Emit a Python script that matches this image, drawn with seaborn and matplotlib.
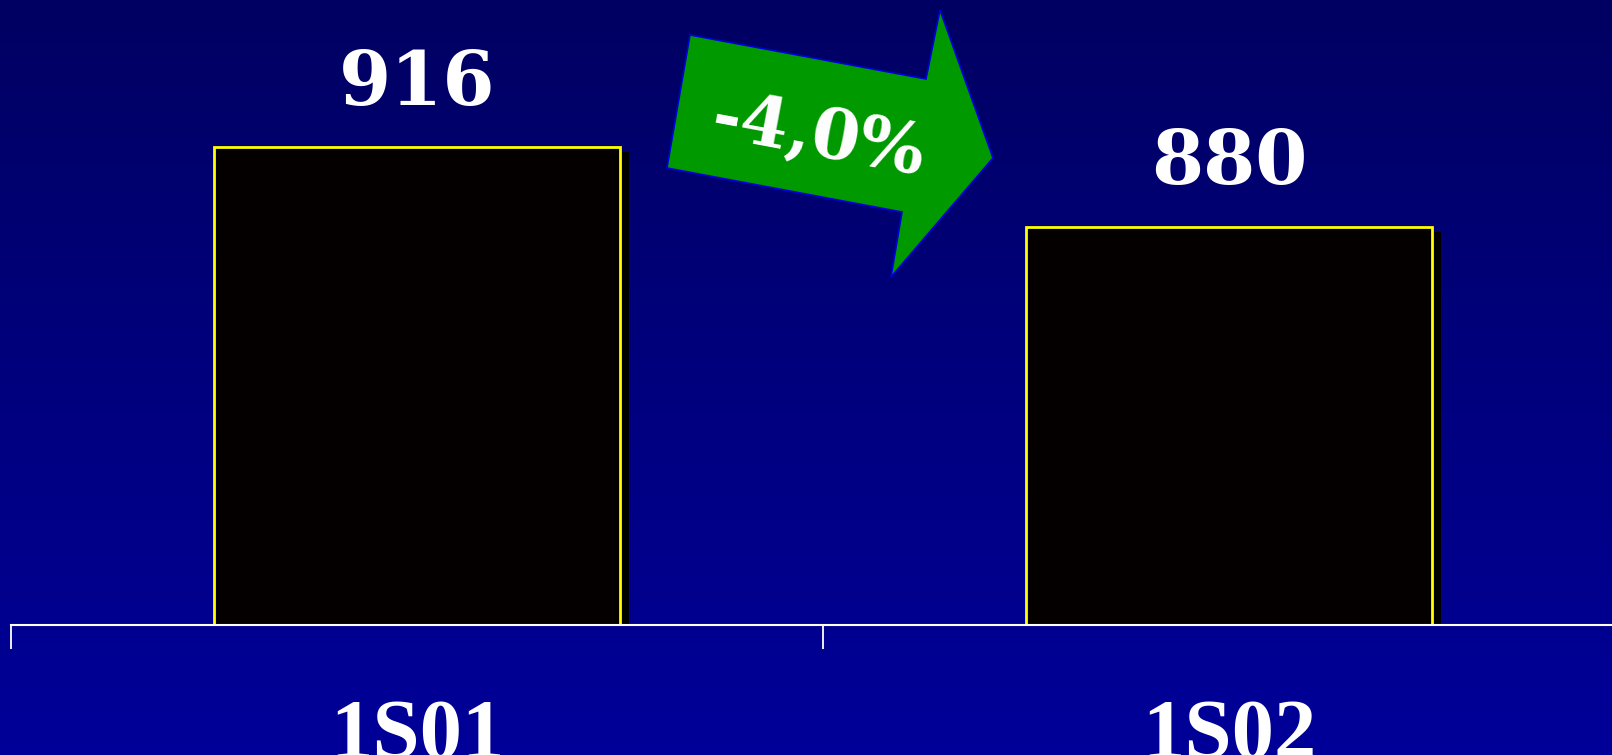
import numpy as np
import pandas as pd
import matplotlib.pyplot as plt
import matplotlib.patheffects as pe
from matplotlib.patches import Polygon
import seaborn as sns

periods = ['1S01', '1S02']
values = [916, 880]
change_label = '-4,0%'
y_min = 700

df = pd.DataFrame({'periodo': periods, 'valor': values})

W, H = 1612, 755
fig = plt.figure(figsize=(W / 100, H / 100), dpi=100)

# gradient background
bg = fig.add_axes([0, 0, 1, 1], zorder=0)
grad = np.linspace(0, 1, 256).reshape(-1, 1)
top = np.array([0, 0, 0x62]) / 255
bottom = np.array([0, 0, 0x99]) / 255
img = top + grad[..., None] * (bottom - top)
bg.imshow(img, aspect='auto', extent=[0, 1, 0, 1])
bg.set_axis_off()

ax = fig.add_axes([0, 130 / H, 1, 625 / H], zorder=1)
ax.set_facecolor('none')
sns.barplot(data=df, x='periodo', y='valor', ax=ax, width=0.5,
            color='#050000', edgecolor='#FFFF00', linewidth=2, saturation=1)
for p in ax.patches:
    p.set_path_effects([pe.SimplePatchShadow(offset=(6, -4), shadow_rgbFace='black', alpha=1.0),
                        pe.Normal()])

for c in ax.containers:
    ax.bar_label(c, fmt='%d', padding=19, color='white', fontsize=54,
                 fontweight='bold', family='DejaVu Serif')

for s in ['top', 'left', 'right']:
    ax.spines[s].set_visible(False)
ax.spines['bottom'].set_color('white')
ax.spines['bottom'].set_linewidth(1.5)
ax.spines['bottom'].set_bounds(-0.5, 1.6)
ax.set_yticks([])
ax.set_xticks([-0.5, 0.5])
ax.set_xticklabels([])
ax.tick_params(axis='x', which='major', length=17, width=1.3, color='white', direction='out')
ax.set_xticks([0, 1], minor=True)
ax.set_xticklabels(periods, minor=True)
ax.tick_params(axis='x', which='minor', length=0, pad=53, labelsize=61, labelcolor='white')
for t in ax.get_xticklabels(minor=True):
    t.set_family('Liberation Serif')
    t.set_fontweight('bold')
ax.set_xlabel('')
ax.set_ylabel('')

ax.set_ylim(y_min, y_min + 625 / 2.2134)
ax.set_xlim(-0.5 - 11.3 / 812, -0.5 + (W - 11.3) / 812)

# green arrow showing the change
arrow_px = [(690, 35), (926, 79), (940, 10), (993, 158), (891, 277), (902, 212), (667, 168)]
arrow = Polygon([(x / W, 1 - y / H) for x, y in arrow_px], closed=True,
                transform=fig.transFigure, facecolor='#009900', edgecolor='#0000DD',
                linewidth=1.2, zorder=3)
fig.add_artist(arrow)
fig.text(818 / W, 1 - 137 / H, change_label, rotation=-10.5, rotation_mode='anchor',
         ha='center', va='center', color='white', fontsize=50, fontweight='bold',
         family='DejaVu Serif', zorder=4)

fig.savefig('out.png', dpi=100)
